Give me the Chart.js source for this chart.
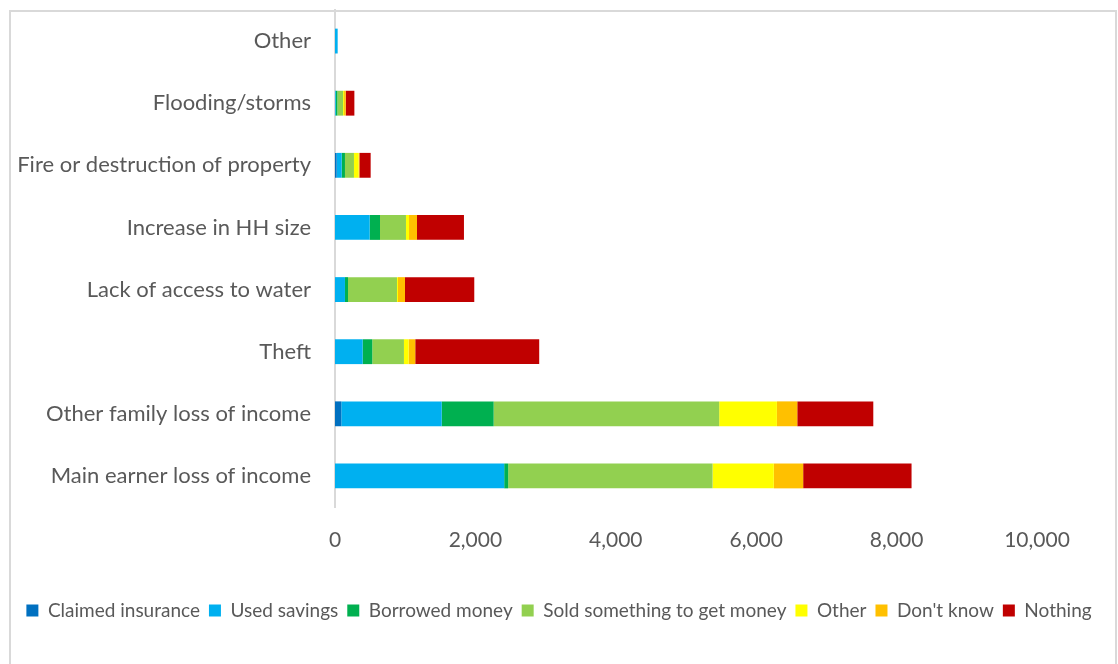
<!DOCTYPE html>
<html>
<head>
<meta charset="utf-8">
<script src="https://cdn.jsdelivr.net/npm/chart.js@4"></script>
<style>
  html, body { margin: 0; padding: 0; background: #fff; }
  #wrap { position: relative; width: 1118px; height: 664px; }
  #frame {
    position: absolute; left: 9px; top: 10px; width: 1108px; height: 660px;
    border: 2px solid #d9d9d9; box-sizing: border-box;
  }
  canvas { position: absolute; left: 0; top: 0; }
</style>
</head>
<body>
<div id="wrap">
  <div id="frame"></div>
  <canvas id="chart" width="1118" height="664"></canvas>
</div>
<script>
// categories, top to bottom
const categories = [
  "Other",
  "Flooding/storms",
  "Fire or destruction of property",
  "Increase in HH size",
  "Lack of access to water",
  "Theft",
  "Other family loss of income",
  "Main earner loss of income"
];

const claimedInsurance = [0, 0, 24, 0, 0, 0, 90, 0];
const usedSavings = [38, 10, 71, 494, 142, 394, 1430, 2410];
const borrowedMoney = [0, 24, 47, 147, 43, 137, 740, 57];
const soldSomething = [0, 81, 128, 370, 698, 451, 3213, 2911];
const otherResponse = [0, 14, 67, 43, 14, 67, 822, 873];
const dontKnow = [0, 24, 10, 114, 100, 94, 290, 418];
const nothing = [0, 123, 161, 669, 987, 1766, 1083, 1544];

const xTicks = [0, 2000, 4000, 6000, 8000, 10000];

const FONT = "Lato, 'Open Sans', sans-serif";
const TEXT = "#595959";

function series(label, data, color) {
  return {
    label: label,
    data: data,
    backgroundColor: color,
    borderWidth: 0,
    barPercentage: 0.4,
    categoryPercentage: 1.0
  };
}

const ctx = document.getElementById("chart").getContext("2d");
new Chart(ctx, {
  type: "bar",
  data: {
    labels: categories,
    datasets: [
      series("Claimed insurance", claimedInsurance, "#0070C0"),
      series("Used savings", usedSavings, "#00B0F0"),
      series("Borrowed money", borrowedMoney, "#00B050"),
      series("Sold something to get money", soldSomething, "#92D050"),
      series("Other", otherResponse, "#FFFF00"),
      series("Don't know", dontKnow, "#FFC000"),
      series("Nothing", nothing, "#C00000")
    ]
  },
  options: {
    indexAxis: "y",
    responsive: false,
    animation: false,
    layout: { padding: { top: 10, right: 0, bottom: 34, left: 0 } },
    scales: {
      x: {
        stacked: true,
        min: 0,
        max: 10000,
        afterBuildTicks: (scale) => {
          scale.ticks = xTicks.map((v) => ({ value: v }));
        },
        grid: { display: false },
        border: { display: false },
        ticks: {
          color: TEXT,
          font: { family: FONT, size: 21 },
          padding: 13,
          maxRotation: 0,
          callback: (v) => v.toLocaleString("en-US")
        },
        afterFit: (scale) => { scale.height = 85; }
      },
      y: {
        stacked: true,
        grid: { display: false },
        border: { display: true, color: "#d9d9d9", width: 2 },
        ticks: {
          color: TEXT,
          font: { family: FONT, size: 22 },
          padding: 16
        },
        afterFit: (scale) => {
          scale.width = 335;
          scale.paddingTop = 0;
          scale.paddingBottom = 0;
        }
      },
      // empty spacer on the right so the plot ends at 10,000 like the original
      spacer: {
        type: "linear",
        position: "right",
        grid: { display: false },
        border: { display: false },
        ticks: { display: false },
        afterFit: (scale) => {
          scale.width = 81;
          scale.paddingTop = 0;
          scale.paddingBottom = 0;
        }
      }
    },
    plugins: {
      legend: {
        position: "bottom",
        labels: {
          color: TEXT,
          font: { family: FONT, size: 19 },
          boxWidth: 12,
          boxHeight: 12,
          padding: 9
        }
      },
      tooltip: { enabled: false }
    }
  }
});
</script>
</body>
</html>
